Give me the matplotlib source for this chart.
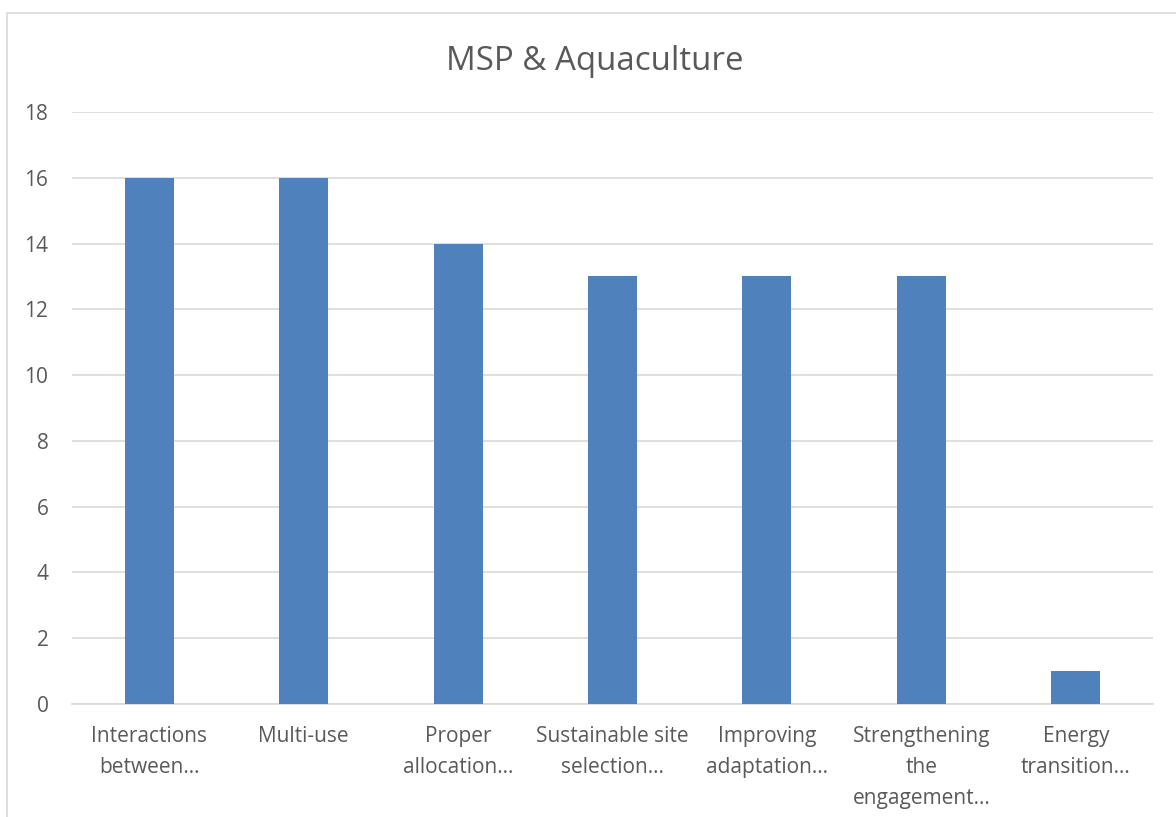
import matplotlib
matplotlib.use('Agg')
import matplotlib.pyplot as plt
from matplotlib.patches import Rectangle

# data
categories = ['Interactions\nbetween…', 'Multi-use', 'Proper\nallocation…',
              'Sustainable site\nselection…', 'Improving\nadaptation…',
              'Strengthening\nthe\nengagement…', 'Energy\ntransition…']
counts = [16, 16, 14, 13, 13, 13, 1]
yticks = [0, 2, 4, 6, 8, 10, 12, 14, 16, 18]

plt.rcParams['font.family'] = ['Open Sans', 'DejaVu Sans']
text_col = '#595959'

fig = plt.figure(figsize=(11.76, 8.17), dpi=100)
ax = fig.add_axes([72 / 1176, 1 - 704 / 817, (1153 - 72) / 1176, (704 - 112) / 817])

x = range(len(categories))
ax.bar(x, counts, width=0.317, color='#4F81BD', zorder=3)

ax.set_xlim(-0.5, len(categories) - 0.5)
ax.set_ylim(0, 18)
ax.set_yticks(yticks)
ax.set_xticks(list(x))
ax.set_xticklabels(categories, linespacing=1.62, va='top')
ax.tick_params(axis='both', length=0, labelsize=15, colors=text_col)
ax.tick_params(axis='y', pad=17)
ax.tick_params(axis='x', pad=16)
ax.grid(axis='y', color='#D9D9D9', linewidth=1.2, zorder=0)
for s in ['top', 'right', 'left']:
    ax.spines[s].set_visible(False)
ax.spines['bottom'].set_color('#D9D9D9')
ax.spines['bottom'].set_linewidth(1.2)

fig.text(595 / 1176, 1 - 62 / 817, 'MSP & Aquaculture', ha='center', va='center',
         fontsize=23.8, color=text_col)

# chart area border
fig.patches.append(Rectangle((7 / 1176, -0.1), 1.2, 1 - 13 / 817 + 0.1,
                             transform=fig.transFigure, fill=False,
                             edgecolor='#D9D9D9', linewidth=1.2))

fig.savefig('out.png', dpi=100)
